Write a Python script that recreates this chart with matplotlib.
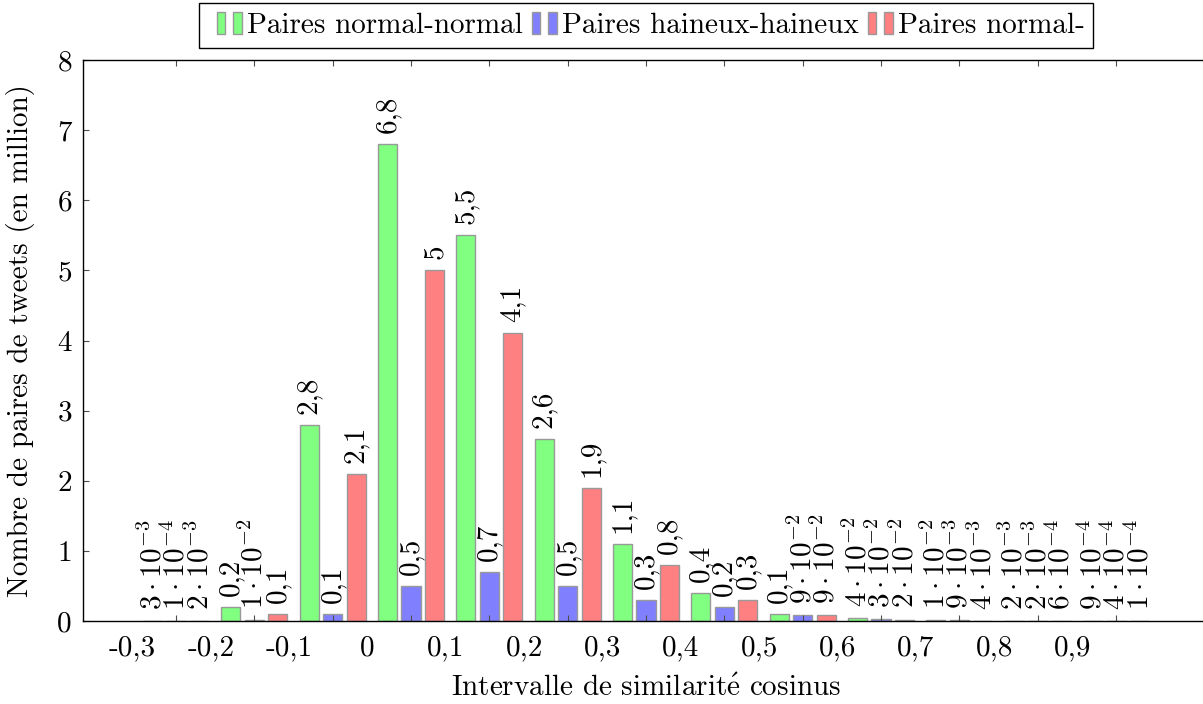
import numpy as np
import matplotlib

matplotlib.use("Agg")
import matplotlib.pyplot as plt
from matplotlib.patches import Patch, Rectangle
from matplotlib.legend_handler import HandlerBase

# intervals (left bound shown as tick label)
intervals = ["-0,3", "-0,2", "-0,1", "0", "0,1", "0,2", "0,3", "0,4", "0,5", "0,6", "0,7", "0,8", "0,9"]
normal_normal = [3e-3, 0.2, 2.8, 6.8, 5.5, 2.6, 1.1, 0.4, 0.1, 4e-2, 1e-2, 2e-3, 9e-4]
haineux_haineux = [1e-4, 1e-2, 0.1, 0.5, 0.7, 0.5, 0.3, 0.2, 9e-2, 3e-2, 9e-3, 2e-3, 4e-4]
normal_haineux = [2e-3, 0.1, 2.1, 5.0, 4.1, 1.9, 0.8, 0.3, 9e-2, 2e-2, 4e-3, 6e-4, 1e-4]
series_labels = ["Paires normal-normal", "Paires haineux-haineux", "Paires normal-"]
colors = ["#80ff80", "#8080ff", "#ff8080"]

plt.rcParams["font.family"] = ["cmr10", "DejaVu Serif"]
plt.rcParams["mathtext.fontset"] = "cm"
plt.rcParams["axes.unicode_minus"] = False
plt.rcParams["font.size"] = 21


def fmt(v):
    if v >= 0.1:
        return f"{v:g}".replace(".", ",")
    m, e = f"{v:.0e}".split("e")
    return rf"${m}\cdot10^{{{int(e)}}}$"


class TwoBars(HandlerBase):
    # pgfplots-style ybar legend image: two small bars side by side
    def create_artists(self, legend, orig, xd, yd, width, height, fontsize, trans):
        out = []
        for x0, x1 in [(0.26, 0.5), (0.74, 1.0)]:
            r = Rectangle((x0 * width - xd, -yd), (x1 - x0) * width, height,
                          facecolor=orig.get_facecolor(), edgecolor=orig.get_edgecolor(),
                          linewidth=orig.get_linewidth(), transform=trans)
            out.append(r)
        return out


fig = plt.figure(figsize=(12.03, 7.04), dpi=100)
unit = 78.33
left_px, bottom_px, top_px = 83, 621, 60
margin = (176 - left_px) / unit
ax = fig.add_axes([
    left_px / 1203,
    1 - bottom_px / 704,
    (12 + 2 * margin) * unit / 1203,
    (bottom_px - top_px) / 704,
])

x = np.arange(len(intervals))
bar_w = 0.245
offsets = [-0.3, 0.0, 0.3]
handles = []
for vals, off, col in zip([normal_normal, haineux_haineux, normal_haineux], offsets, colors):
    bars = ax.bar(x + off, vals, width=bar_w, color=col, edgecolor="0.6", linewidth=1.0)
    for b, v in zip(bars, vals):
        ax.annotate(fmt(v), (b.get_x() + b.get_width() / 2, b.get_height()),
                    xytext=(0, 8), textcoords="offset points",
                    rotation=90, ha="center", va="bottom")
    handles.append(Patch(facecolor=col, edgecolor="0.6", linewidth=1.0))

ax.set_xlim(-margin, 12 + margin)
ax.set_ylim(0, 8)
ax.set_yticks(range(9))
ax.set_yticklabels([str(i) for i in range(9)])
ax.set_xticks(x)
ax.set_xticklabels([])
ax.set_xticks(x - 0.555, intervals, minor=True)
ax.tick_params(axis="x", which="minor", length=0, pad=10)
ax.tick_params(axis="both", which="major", direction="in", length=4, width=0.8,
               top=True, right=True, color="0.3")
ax.tick_params(axis="y", pad=8)
for s in ax.spines.values():
    s.set_linewidth(1.0)

ax.set_xlabel(r"Intervalle de similarit$\acute{\mathrm{e}}$ cosinus", labelpad=10)
ax.set_ylabel("Nombre de paires de tweets (en million)", labelpad=16)

leg = fig.legend(handles, series_labels, loc="upper left",
                 bbox_to_anchor=(199 / 1203, 1 - 3 / 704), ncol=3,
                 handler_map={Patch: TwoBars()},
                 handlelength=1.17, handleheight=0.8, handletextpad=0.17,
                 columnspacing=0.0, borderpad=0.3, borderaxespad=0,
                 fancybox=False, framealpha=1)
leg.get_frame().set_edgecolor("black")
leg.get_frame().set_linewidth(1.0)

fig.savefig("out.png", dpi=100)
